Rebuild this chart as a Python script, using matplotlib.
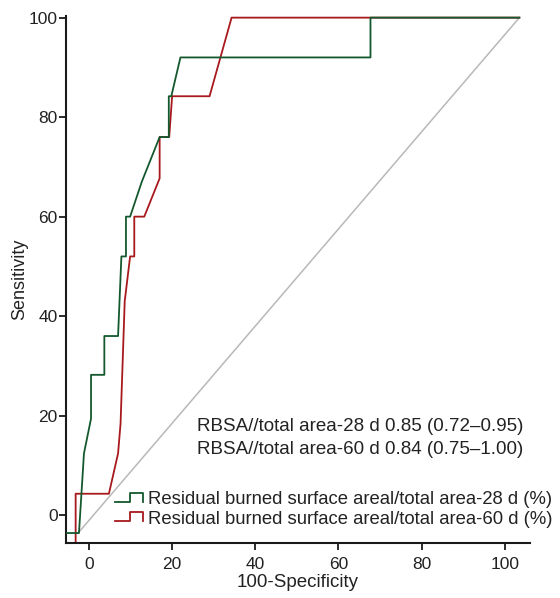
import matplotlib
matplotlib.use("Agg")
import matplotlib.pyplot as plt
from matplotlib.legend_handler import HandlerBase
from matplotlib.lines import Line2D

plt.rcParams["font.family"] = ["Liberation Sans", "DejaVu Sans"]

# ROC curves (100-Specificity, Sensitivity)
fpr_28 = [-5.5, -2.4, -1.2, 0.5, 0.5, 3.7, 3.7, 7.0, 7.8, 8.9, 8.9, 9.9,
          12.7, 17.0, 19.2, 19.2, 19.8, 22.0, 67.7, 67.7, 103.5]
tpr_28 = [-3.6, -3.6, 12.4, 19.4, 28.2, 28.2, 36.0, 36.0, 52.0, 52.0, 60.0, 60.0,
          67.0, 76.0, 76.0, 84.2, 84.2, 92.0, 92.0, 100.0, 100.0]

fpr_60 = [-3.2, -3.2, 4.8, 7.0, 7.6, 8.6, 9.9, 10.9, 10.9, 13.3,
          17.0, 17.0, 19.3, 20.0, 29.0, 34.3, 103.5]
tpr_60 = [-5.6, 4.3, 4.3, 12.4, 18.4, 43.0, 52.0, 52.0, 60.0, 60.0,
          67.7, 76.0, 76.0, 84.2, 84.2, 100.0, 100.0]

ref_x = [-2.5, 103.5]
ref_y = [-3.5, 100.0]

label_28 = "Residual burned surface areal/total area-28 d (%)"
label_60 = "Residual burned surface areal/total area-60 d (%)"
auc_lines = ["RBSA//total area-28 d 0.85 (0.72\u20130.95)",
             "RBSA//total area-60 d 0.84 (0.75\u20131.00)"]

GREEN = "#14582e"
RED = "#a8191d"
TEXT = "#222222"


class StepHandler(HandlerBase):
    """Legend key drawn as a small step, like the Stata roc legend."""
    def create_artists(self, legend, orig_handle, xdescent, ydescent,
                       width, height, fontsize, trans):
        x0, y0 = -xdescent, -ydescent
        lo, hi = y0 + 0.2 * height, y0 + 0.87 * height
        xm = x0 + 0.54 * width
        line = Line2D([x0, xm, xm, x0 + width, x0 + width], [lo, lo, hi, hi, lo],
                      color=orig_handle.get_color(), lw=orig_handle.get_linewidth(),
                      transform=trans)
        return [line]


fig = plt.figure(figsize=(5.6, 5.98), dpi=100)
ax = fig.add_axes([0.118, 0.092, 0.828, 0.881])

ax.plot(ref_x, ref_y, color="#b8b8b8", lw=1.1, zorder=1)
h28, = ax.plot(fpr_28, tpr_28, color=GREEN, lw=1.3, zorder=3)
h60, = ax.plot(fpr_60, tpr_60, color=RED, lw=1.3, zorder=2)

ax.set_xlim(-5.5, 106)
ax.set_ylim(-5.6, 100.3)
ax.set_xticks([0, 20, 40, 60, 80, 100])
ax.set_yticks([0, 20, 40, 60, 80, 100])
for s in ("top", "right"):
    ax.spines[s].set_visible(False)
for s in ("left", "bottom"):
    ax.spines[s].set_linewidth(1.5)
    ax.spines[s].set_color("#1a1a1a")
ax.tick_params(length=5, width=1.3, labelsize=12.5, colors="#1a1a1a",
               labelcolor=TEXT)
ax.tick_params(axis="x", pad=5)
ax.tick_params(axis="y", pad=1)
ax.set_xlabel("100-Specificity", fontsize=13.5, color=TEXT, labelpad=1.5)
ax.set_ylabel("Sensitivity", fontsize=13, color=TEXT, labelpad=0.5)

for i, s in enumerate(auc_lines):
    ax.text(26.1, 16.9 - 4.6 * i, s, fontsize=13.5, color=TEXT,
            va="baseline", ha="left")

leg = ax.legend([h28, h60], [label_28, label_60], loc="upper left",
                bbox_to_anchor=(0.106, 0.098), frameon=False, fontsize=13.3,
                handlelength=1.52, handletextpad=0.27, labelspacing=0.12,
                borderpad=0, borderaxespad=0,
                handler_map={Line2D: StepHandler()})
for t in leg.get_texts():
    t.set_color(TEXT)

fig.savefig("out.png", dpi=100)
